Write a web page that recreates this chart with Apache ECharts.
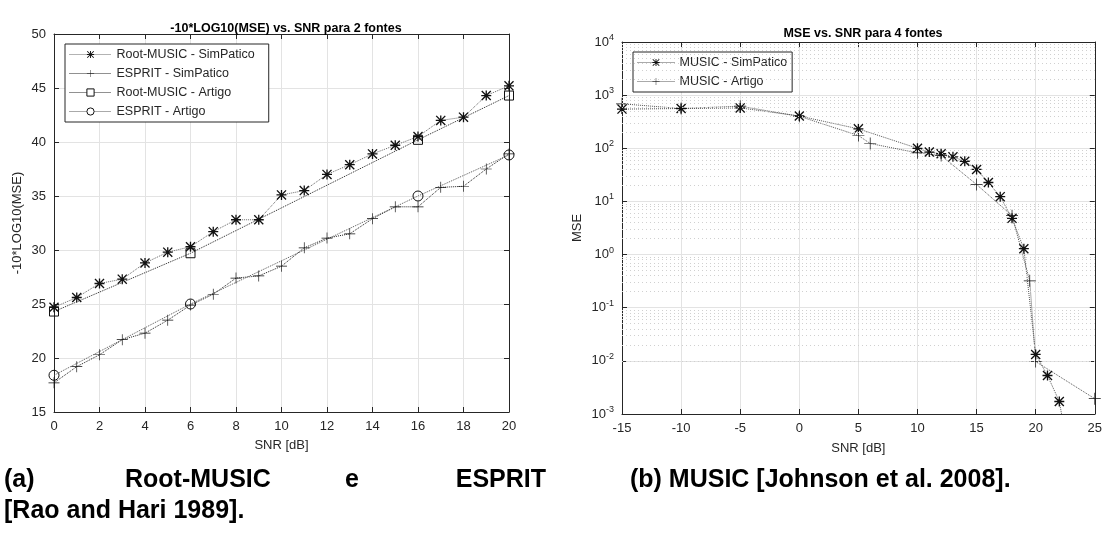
<!DOCTYPE html>
<html>
<head>
<meta charset="utf-8">
<script src="https://cdn.jsdelivr.net/npm/echarts@6/dist/echarts.min.js"></script>
<style>
html,body{margin:0;padding:0;background:#fff;}
#chart{width:1105px;height:533px;}
</style>
</head>
<body>
<div id="chart"></div>
<script>
// ---------- DATA ----------
// Left plot: -10*LOG10(MSE) vs SNR (2 sources)
const leftSnr = [0,1,2,3,4,5,6,7,8,9,10,11,12,13,14,15,16,17,18,19,20];
const rootMusicSim = [24.7,25.6,26.9,27.3,28.8,29.8,30.3,31.7,32.8,32.8,35.1,35.5,37.0,37.9,38.9,39.7,40.5,42.0,42.3,44.3,45.2];
const espritSim = [17.7,19.2,20.3,21.7,22.3,23.5,24.9,25.9,27.4,27.6,28.5,30.2,31.1,31.5,32.9,34.0,34.0,35.8,35.9,37.5,38.9];
const artigoSnr = [0,6,16,20];
const rootMusicArt = [24.3,29.7,40.2,44.3];
const espritArt = [18.4,25.0,35.0,38.8];

// Right plot: MSE vs SNR (4 sources)
const musicSimSnr = [-15,-10,-5,0,5,10,11,12,13,14,15,16,17,18,19,20,21,22,23];
const musicSim = [546,560,575,405,232,100,85,79,69,57,40,22.7,12.3,4.8,1.29,0.0132,0.0053,0.00172,0.0001];
const musicArtSnr = [-15,-10,-5,0,5,6,10,12,15,18,19.5,20,25];
const musicArt = [687,560,620,400,174,123,82,73,20.8,5.4,0.32,0.0097,0.00194];

const leftXTicks = {min:0, max:20, interval:2};
const leftYTicks = {min:15, max:50, interval:5};
const rightXTicks = {min:-15, max:25, interval:5};
const rightYRange = {min:0.001, max:10000};

const leftTitle = '-10*LOG10(MSE) vs. SNR para 2 fontes';
const rightTitle = 'MSE vs. SNR para 4 fontes';
const leftYName = '-10*LOG10(MSE)';
const rightYName = 'MSE';
const xName = 'SNR [dB]';
const leftNames = ['Root-MUSIC - SimPatico','ESPRIT - SimPatico','Root-MUSIC - Artigo','ESPRIT - Artigo'];
const rightNames = ['MUSIC - SimPatico','MUSIC - Artigo'];

// ---------- STYLE ----------
const FONT = '"Liberation Sans", Arial, Helvetica, sans-serif';
const AX = '#262626';
const GRID = '#e3e3e3';
const STAR = 'path://M8.7,0L11.3,0L11.3,20L8.7,20Z M0,8.7L20,8.7L20,11.3L0,11.3Z M1.9,0L20,18.1L18.1,20L0,1.9Z M18.1,0L20,1.9L1.9,20L0,18.1Z';
const PLUS = 'path://M9.4,0L10.6,0L10.6,9.4L20,9.4L20,10.6L10.6,10.6L10.6,20L9.4,20L9.4,10.6L0,10.6L0,9.4L9.4,9.4Z';

function pairs(xs, ys){ return xs.map((x,i)=>[x, ys[i]]); }

function sup(v){
  const e = Math.round(Math.log10(v));
  return '{b|10}{s|' + (e<0 ? '-' + (-e) : e) + '}';
}

const axisCommon = {
  axisLine:{show:true, onZero:false, lineStyle:{color:AX, width:1}},
  axisTick:{show:true, inside:true, length:5, lineStyle:{color:AX}},
  axisLabel:{color:AX, fontSize:13, fontFamily:FONT},
  nameTextStyle:{color:AX, fontSize:13, fontFamily:FONT}
};

function lineSeries(name, data, symbol, size, xi, yi, opts){
  return Object.assign({
    name:name, type:'line', data:data, xAxisIndex:xi, yAxisIndex:yi,
    symbol:symbol, symbolSize:size, showAllSymbol:true,
    lineStyle:{type:'dotted', width:1, color:'#3a3a3a'},
    itemStyle:{color:'#111', borderColor:'#111', borderWidth:0},
    emphasis:{disabled:true}, animation:false, clip:true, z:3
  }, opts||{});
}

// minor log grid lines (2..9 x 10^n)
const minorVals = [];
for(let n=-3;n<4;n++){ for(let k=2;k<10;k++){ minorVals.push(k*Math.pow(10,n)); } }

const hollow = {itemStyle:{color:'transparent', borderColor:'#111', borderWidth:1}};

function legendItems(names, kinds){
  return names.map((n,i)=>{
    if(kinds[i]==='hollow'){
      return {name:n, itemStyle:{color:'#fff', borderColor:'#111', borderWidth:1}};
    }
    return {name:n};
  });
}

const option = {
  backgroundColor:'#fff',
  animation:false,
  title:[
    {text:leftTitle, left:281, top:17, textAlign:'center',
     textStyle:{fontSize:12.5, fontWeight:'bold', color:'#000', fontFamily:FONT}},
    {text:rightTitle, left:858, top:22, textAlign:'center',
     textStyle:{fontSize:12.5, fontWeight:'bold', color:'#000', fontFamily:FONT}}
  ],
  grid:[
    {left:54, right:596, top:34, bottom:121},
    {left:622, right:10, top:42, bottom:119}
  ],
  legend:[
    {data:legendItems(leftNames, ['','','hollow','hollow']), left:65, top:44, orient:'vertical', itemWidth:42, itemHeight:9, itemGap:6,
     padding:[4,14,4,4], borderColor:AX, borderWidth:1, backgroundColor:'#fff',
     lineStyle:{type:'dotted', width:1},
     textStyle:{fontSize:12.5, color:AX, fontFamily:FONT}, selectedMode:false},
    {data:legendItems(rightNames, ['','']), left:633, top:52, orient:'vertical', itemWidth:37, itemHeight:9, itemGap:6,
     padding:[4,5,4,4], borderColor:AX, borderWidth:1, backgroundColor:'#fff',
     lineStyle:{type:'dotted', width:1},
     textStyle:{fontSize:12.5, color:AX, fontFamily:FONT}, selectedMode:false}
  ],
  xAxis:[
    Object.assign({}, axisCommon, {gridIndex:0, type:'value', min:leftXTicks.min, max:leftXTicks.max, interval:leftXTicks.interval,
      name:xName, nameLocation:'middle', nameGap:27,
      splitLine:{show:true, lineStyle:{color:GRID}}}),
    Object.assign({}, axisCommon, {gridIndex:0, type:'value', position:'top', min:leftXTicks.min, max:leftXTicks.max, interval:leftXTicks.interval,
      axisLabel:{show:false}, splitLine:{show:false}}),
    Object.assign({}, axisCommon, {gridIndex:1, type:'value', min:rightXTicks.min, max:rightXTicks.max, interval:rightXTicks.interval,
      name:xName, nameLocation:'middle', nameGap:28,
      splitLine:{show:true, lineStyle:{color:GRID}}}),
    Object.assign({}, axisCommon, {gridIndex:1, type:'value', position:'top', min:rightXTicks.min, max:rightXTicks.max, interval:rightXTicks.interval,
      axisLabel:{show:false}, splitLine:{show:false}})
  ],
  yAxis:[
    Object.assign({}, axisCommon, {gridIndex:0, type:'value', min:leftYTicks.min, max:leftYTicks.max, interval:leftYTicks.interval,
      name:leftYName, nameLocation:'middle', nameGap:30,
      splitLine:{show:true, lineStyle:{color:GRID}}}),
    Object.assign({}, axisCommon, {gridIndex:0, type:'value', position:'right', min:leftYTicks.min, max:leftYTicks.max, interval:leftYTicks.interval,
      axisLabel:{show:false}, splitLine:{show:false}}),
    Object.assign({}, axisCommon, {gridIndex:1, type:'log', logBase:10, min:rightYRange.min, max:rightYRange.max,
      name:rightYName, nameLocation:'middle', nameGap:38,
      axisLabel:{color:AX, fontFamily:FONT, formatter:sup,
        rich:{b:{fontSize:13, color:AX, fontFamily:FONT}, s:{fontSize:9, color:AX, fontFamily:FONT, padding:[0,0,9,0]}}},
      splitLine:{show:true, lineStyle:{color:GRID}}}),
    Object.assign({}, axisCommon, {gridIndex:1, type:'log', logBase:10, position:'right', min:rightYRange.min, max:rightYRange.max,
      axisLabel:{show:false}, splitLine:{show:false}})
  ],
  series:[
    // minor log grid (reference lines only)
    {type:'line', xAxisIndex:2, yAxisIndex:2, data:[], silent:true, z:1,
     markLine:{silent:true, symbol:'none', label:{show:false}, animation:false,
       lineStyle:{type:[1,3], color:'#d0d0d0', width:1},
       data:minorVals.map(v=>({yAxis:v}))}},
    lineSeries(leftNames[0], pairs(leftSnr, rootMusicSim), STAR, 10, 0, 0, {lineStyle:{type:'dotted', width:1, color:'#666'}}),
    lineSeries(leftNames[1], pairs(leftSnr, espritSim), PLUS, 11, 0, 0, {lineStyle:{type:'dotted', width:1, color:'#222'}}),
    lineSeries(leftNames[2], pairs(artigoSnr, rootMusicArt), 'rect', 9, 0, 0, Object.assign({lineStyle:{type:'dotted', width:1, color:'#222'}}, hollow)),
    lineSeries(leftNames[3], pairs(artigoSnr, espritArt), 'circle', 10, 0, 0, Object.assign({lineStyle:{type:'dotted', width:1, color:'#555'}}, hollow)),
    lineSeries(rightNames[0], pairs(musicSimSnr, musicSim), STAR, 10, 2, 2, {lineStyle:{type:'dotted', width:1, color:'#555'}}),
    lineSeries(rightNames[1], pairs(musicArtSnr, musicArt), PLUS, 12, 2, 2, {lineStyle:{type:'dotted', width:1, color:'#555'}})
  ],
  graphic:[
    {type:'text', left:4, top:468, style:{text:'(a)', font:'bold 25px '+FONT, fill:'#000'}},
    {type:'text', left:125, top:468, style:{text:'Root-MUSIC', font:'bold 25px '+FONT, fill:'#000'}},
    {type:'text', left:345, top:468, style:{text:'e', font:'bold 25px '+FONT, fill:'#000'}},
    {type:'text', right:1105-546, top:468, style:{text:'ESPRIT', font:'bold 25px '+FONT, fill:'#000'}},
    {type:'text', left:4, top:499, style:{text:'[Rao and Hari 1989].', font:'bold 25px '+FONT, fill:'#000'}},
    {type:'text', left:630, top:468, style:{text:'(b) MUSIC [Johnson et al. 2008].', font:'bold 25px '+FONT, fill:'#000'}}
  ]
};

const chart = echarts.init(document.getElementById('chart'), null, {renderer:'canvas'});
chart.setOption(option);
</script>
</body>
</html>
